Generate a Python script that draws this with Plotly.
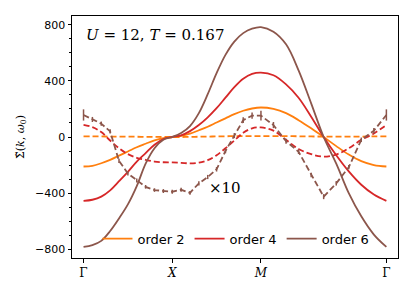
import plotly.graph_objects as go

# path coordinate along Γ-X-M-Γ
k_path = [0.0, 0.1, 0.2, 0.3, 0.4, 0.5, 0.6, 0.7, 0.8, 0.9, 1.0,
          1.1, 1.2, 1.3, 1.4, 1.5, 1.6, 1.7, 1.8, 1.9, 2.0,
          2.141, 2.283, 2.424, 2.566, 2.707, 2.849, 2.990, 3.131, 3.273, 3.414]
sym_pos = [0.0, 1.0, 2.0, 3.414]
sym_labels = ["Γ", "<i>X</i>", "<i>M</i>", "Γ"]

order2 = [-210, -205, -187, -163, -133, -103, -73, -48, -24, -8, 0,
          8, 24, 48, 73, 103, 133, 163, 187, 203, 210,
          200, 170, 120, 62, 0, -65, -125, -172, -200, -210]
order2_im = [4, 4, 4, 3, 3, 2, 2, 1, 1, 0, 0,
             0, 1, 2, 3, 4, 5, 6, 6, 6, 6,
             6, 6, 5, 4, 3, 2, 3, 3, 4, 4]
order4 = [-455, -447, -425, -380, -315, -248, -175, -115, -55, -15, 0,
          12, 42, 85, 140, 205, 280, 355, 415, 450, 459,
          440, 375, 280, 145, 0, -130, -245, -340, -410, -455]
order4_im = [86, 70, 35, -25, -80, -122, -148, -163, -175, -180, -181,
             -184, -188, -183, -165, -130, -80, -25, 30, 62, 68,
             45, -20, -85, -122, -140, -125, -80, -20, 25, 86]
order6 = [-783, -770, -740, -670, -580, -480, -350, -190, -80, -20, 0,
          28, 78, 170, 305, 455, 585, 680, 740, 772, 783,
          750, 660, 475, 240, 0, -190, -400, -565, -695, -783]
order6_im_x10 = [157, 125, 95, 40, -170, -260, -310, -355, -378, -385, -390,
                 -376, -398, -330, -285, -230, -100, 10, 120, 152, 152,
                 85, -30, -105, -270, -425, -330, -215, -20, 45, 157]
order6_im_err = [40, 18, 15, 15, 15, 14, 14, 13, 13, 14, 14,
                 14, 14, 15, 15, 16, 16, 18, 20, 22, 35,
                 22, 18, 16, 16, 18, 16, 15, 16, 20, 40]

C_OR, C_RD, C_BR = "#ff7f0e", "#d62728", "#8c564b"
LW = 1.8
DASH = "6px,3px"

fig = go.Figure()
fig.add_trace(go.Scatter(x=k_path, y=order2, mode="lines", name="order 2",
                         line=dict(color=C_OR, width=LW, shape="spline")))
fig.add_trace(go.Scatter(x=k_path, y=order2_im, mode="lines", showlegend=False,
                         line=dict(color=C_OR, width=LW, dash=DASH, shape="spline")))
fig.add_trace(go.Scatter(x=k_path, y=order4, mode="lines", name="order 4",
                         line=dict(color=C_RD, width=LW, shape="spline")))
fig.add_trace(go.Scatter(x=k_path, y=order4_im, mode="lines", showlegend=False,
                         line=dict(color=C_RD, width=LW, dash=DASH, shape="spline")))
fig.add_trace(go.Scatter(x=k_path, y=order6, mode="lines", name="order 6",
                         line=dict(color=C_BR, width=LW, shape="spline")))
fig.add_trace(go.Scatter(x=k_path, y=order6_im_x10, mode="lines", showlegend=False,
                         line=dict(color=C_BR, width=LW, dash=DASH),
                         error_y=dict(type="data", array=order6_im_err, visible=True,
                                      color=C_BR, thickness=1.5, width=0)))

fig.add_annotation(x=0.0, y=730, xref="x", yref="y", xanchor="left", yanchor="middle",
                   text="<i>U</i> = 12, <i>T</i> = 0.167", showarrow=False,
                   font=dict(family="DejaVu Serif", size=15, color="black"))
fig.add_annotation(x=1.6, y=-362, xref="x", yref="y", xanchor="center", yanchor="middle",
                   text="×10", showarrow=False,
                   font=dict(family="DejaVu Serif", size=15, color="black"))

# page body has an 8px margin: shrink the figure so the plot lands where the reference has it
fig.update_layout(
    width=407, height=283,
    margin=dict(l=64, r=17, t=8, b=33, autoexpand=False),
    paper_bgcolor="white", plot_bgcolor="white",
    showlegend=True,
    legend=dict(orientation="h", x=0.503, xanchor="center", y=0.08, yanchor="middle",
                bgcolor="rgba(0,0,0,0)", font=dict(family="DejaVu Sans", size=13, color="black"),
                itemwidth=30, tracegroupgap=0),
)
fig.update_xaxes(range=[-0.13, 3.545], tickvals=sym_pos, ticktext=sym_labels,
                 automargin=False,
                 showgrid=False, zeroline=False, showline=True, linecolor="black",
                 linewidth=1, mirror=True, ticks="outside", ticklen=3.5, tickcolor="black",
                 tickfont=dict(family="DejaVu Serif", size=12, color="black"))
fig.update_yaxes(range=[-862, 862], tickvals=[-800, -400, 0, 400, 800],
                 ticktext=["−800", "−400", "0", "400", "800"],
                 automargin=False,
                 showgrid=False, zeroline=False, showline=True, linecolor="black",
                 linewidth=1, mirror=True, ticks="outside", ticklen=3.5, tickcolor="black",
                 tickfont=dict(family="DejaVu Sans", size=11, color="black"),
                 minor=dict(dtick=100, ticks="outside", ticklen=2, tickcolor="black"),
                 title=dict(text="Σ̃(<i>k</i>, <i>ω</i><sub>0</sub>)", standoff=8,
                            font=dict(family="DejaVu Serif", size=11, color="black")))

fig.write_html("out.html")
